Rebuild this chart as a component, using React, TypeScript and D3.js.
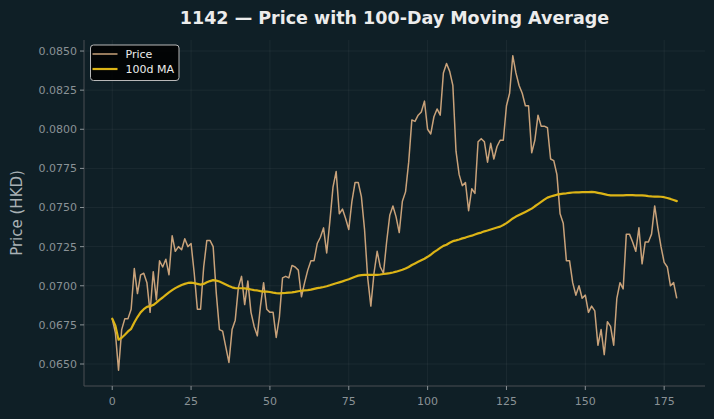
import React from 'react';
import * as d3 from 'd3';

// closing prices, one per trading day (index 0..179)
const prices = [
  0.0679, 0.0670, 0.0646, 0.0672, 0.0679, 0.0679, 0.0685, 0.0711, 0.0695, 0.0707,
  0.0708, 0.0702, 0.0683, 0.0709, 0.0691, 0.0716, 0.0712, 0.0717, 0.0707, 0.0732,
  0.0722, 0.0725, 0.0723, 0.0730, 0.0725, 0.0727, 0.0708, 0.0685, 0.0685, 0.0712,
  0.0729, 0.0729, 0.0725, 0.0695, 0.0672, 0.0671, 0.0661, 0.0651, 0.0672, 0.0678,
  0.0699, 0.0706, 0.0688, 0.0703, 0.0683, 0.0674, 0.0668, 0.0687, 0.0702, 0.0685,
  0.0683, 0.0683, 0.0667, 0.0680, 0.0705, 0.0706, 0.0705, 0.0713, 0.0712, 0.0710,
  0.0693, 0.0702, 0.0710, 0.0716, 0.0716, 0.0727, 0.0731, 0.0737, 0.0721, 0.0741,
  0.0763, 0.0773, 0.0746, 0.0749, 0.0743, 0.0736, 0.0754, 0.0766, 0.0766, 0.0757,
  0.0736, 0.0705, 0.0687, 0.0708, 0.0722, 0.0712, 0.0708, 0.0728, 0.0745, 0.0751,
  0.0744, 0.0734, 0.0754, 0.0760, 0.0779, 0.0806, 0.0805, 0.0809, 0.0811, 0.0818,
  0.0800, 0.0797, 0.0808, 0.0813, 0.0809, 0.0836, 0.0842, 0.0837, 0.0828, 0.0786,
  0.0771, 0.0764, 0.0766, 0.0748, 0.0762, 0.0759, 0.0792, 0.0794, 0.0792, 0.0779,
  0.0791, 0.0781, 0.0789, 0.0793, 0.0793, 0.0815, 0.0823, 0.0847, 0.0836, 0.0828,
  0.0823, 0.0815, 0.0815, 0.0785, 0.0793, 0.0809, 0.0802, 0.0802, 0.0801, 0.0781,
  0.0780, 0.0771, 0.0746, 0.0740, 0.0716, 0.0716, 0.0702, 0.0694, 0.0700, 0.0692,
  0.0694, 0.0683, 0.0687, 0.0684, 0.0662, 0.0672, 0.0656, 0.0677, 0.0674, 0.0662,
  0.0692, 0.0702, 0.0698, 0.0733, 0.0733, 0.0728, 0.0722, 0.0737, 0.0714, 0.0728,
  0.0728, 0.0733, 0.0751, 0.0737, 0.0725, 0.0715, 0.0712, 0.0700, 0.0702, 0.0692,
];

// 100-day moving average
const movingAvg = [
  0.06790, 0.06745, 0.06655, 0.06668, 0.06687, 0.06708, 0.06725, 0.06765, 0.06800, 0.06830,
  0.06850, 0.06865, 0.06870, 0.06877, 0.06892, 0.06910, 0.06925, 0.06942, 0.06958, 0.06972,
  0.06985, 0.06995, 0.07005, 0.07012, 0.07018, 0.07020, 0.07017, 0.07012, 0.07007, 0.07012,
  0.07022, 0.07030, 0.07036, 0.07033, 0.07027, 0.07018, 0.07008, 0.06998, 0.06990, 0.06985,
  0.06984, 0.06984, 0.06983, 0.06980, 0.06976, 0.06972, 0.06970, 0.06966, 0.06963, 0.06962,
  0.06960, 0.06956, 0.06953, 0.06952, 0.06953, 0.06954, 0.06956, 0.06958, 0.06961, 0.06965,
  0.06968, 0.06970, 0.06972, 0.06975, 0.06980, 0.06985, 0.06988, 0.06992, 0.06997, 0.07003,
  0.07010, 0.07016, 0.07022, 0.07028, 0.07035, 0.07042, 0.07050, 0.07058, 0.07065, 0.07068,
  0.07069, 0.07069, 0.07069, 0.07069, 0.07070, 0.07072, 0.07075, 0.07078, 0.07081, 0.07085,
  0.07090, 0.07096, 0.07102, 0.07110, 0.07120, 0.07133, 0.07143, 0.07153, 0.07163, 0.07173,
  0.07185, 0.07198, 0.07215, 0.07228, 0.07242, 0.07255, 0.07262, 0.07275, 0.07285, 0.07290,
  0.07296, 0.07303, 0.07308, 0.07315, 0.07320, 0.07328, 0.07335, 0.07340, 0.07348, 0.07353,
  0.07360, 0.07366, 0.07372, 0.07378, 0.07388, 0.07400, 0.07415, 0.07430, 0.07442, 0.07452,
  0.07462, 0.07472, 0.07482, 0.07493, 0.07508, 0.07522, 0.07536, 0.07550, 0.07563, 0.07570,
  0.07576, 0.07582, 0.07586, 0.07589, 0.07591, 0.07594, 0.07596, 0.07597, 0.07597, 0.07598,
  0.07598, 0.07599, 0.07600, 0.07598, 0.07594, 0.07590, 0.07586, 0.07581, 0.07578, 0.07577,
  0.07577, 0.07577, 0.07578, 0.07579, 0.07579, 0.07579, 0.07578, 0.07578, 0.07578, 0.07576,
  0.07573, 0.07571, 0.07570, 0.07570, 0.07569, 0.07566, 0.07561, 0.07555, 0.07548, 0.07541,
];

const xTicks = [0, 25, 50, 75, 100, 125, 150, 175];
const yTicks = [0.065, 0.0675, 0.07, 0.0725, 0.075, 0.0775, 0.08, 0.0825, 0.085];

const W = 714;
const H = 419;
const margin = { top: 40, right: 9, bottom: 33, left: 84 };
const BG = '#0f1f26';
const FONT = 'DejaVu Sans, sans-serif';

const App: React.FC = () => {
  const innerW = W - margin.left - margin.right;
  const innerH = H - margin.top - margin.bottom;

  const n = prices.length - 1;
  const pad = n * 0.05;
  const x = d3.scaleLinear().domain([-pad, n + pad]).range([0, innerW]);

  const lo = d3.min(prices) as number;
  const hi = d3.max(prices) as number;
  const yPad = (hi - lo) * 0.05;
  const y = d3.scaleLinear().domain([lo - yPad, hi + yPad]).range([innerH, 0]);

  const line = d3.line<number>()
    .x((_, i) => x(i))
    .y(d => y(d));

  return (
    <svg width={W} height={H} style={{ display: 'block', position: 'absolute', left: 0, top: 0, background: BG }}>
      <rect width={W} height={H} fill={BG} />
      <text x={margin.left + innerW / 2} y={24} textAnchor="middle" fill="#ececec"
        fontFamily={FONT} fontWeight="bold" fontSize={17.5}>
        1142 — Price with 100-Day Moving Average
      </text>
      <g transform={`translate(${margin.left},${margin.top})`}>
        {/* grid */}
        {yTicks.map(t => (
          <line key={`gy${t}`} x1={0} x2={innerW} y1={y(t)} y2={y(t)} stroke="#ffffff" strokeOpacity={0.05} />
        ))}
        {xTicks.map(t => (
          <line key={`gx${t}`} x1={x(t)} x2={x(t)} y1={0} y2={innerH} stroke="#ffffff" strokeOpacity={0.05} />
        ))}

        <path d={line(prices) || ''} fill="none" stroke="#c9a27a" strokeWidth={1.5} strokeLinejoin="round" />
        <path d={line(movingAvg) || ''} fill="none" stroke="#dcb416" strokeWidth={2.2} strokeLinejoin="round" strokeLinecap="round" />

        {/* spines */}
        <line x1={0} x2={0} y1={0} y2={innerH} stroke="#4a4f52" />
        <line x1={0} x2={innerW} y1={innerH} y2={innerH} stroke="#4a4f52" />

        {/* x axis */}
        {xTicks.map(t => (
          <g key={`xt${t}`} transform={`translate(${x(t)},${innerH})`}>
            <line y2={4} stroke="#8a9296" />
            <text y={19} textAnchor="middle" fill="#8a9296" fontFamily={FONT} fontSize={11}>{t}</text>
          </g>
        ))}
        {/* y axis */}
        {yTicks.map(t => (
          <g key={`yt${t}`} transform={`translate(0,${y(t)})`}>
            <line x2={-4} stroke="#8a9296" />
            <text x={-7} dy="0.35em" textAnchor="end" fill="#8a9296" fontFamily={FONT} fontSize={11}>
              {d3.format('.4f')(t)}
            </text>
          </g>
        ))}

        {/* legend */}
        <g transform="translate(6.5,5)">
          <rect width={88.5} height={35.5} rx={3} fill="#000000" fillOpacity={0.85} stroke="#b8b8b8" strokeWidth={1} />
          <line x1={2} x2={27} y1={9} y2={9} stroke="#c9a27a" strokeWidth={1.5} />
          <text x={35} y={9} dy="0.35em" fill="#ececec" fontFamily={FONT} fontSize={11}>Price</text>
          <line x1={2} x2={27} y1={24} y2={24} stroke="#dcb416" strokeWidth={2.2} />
          <text x={35} y={24} dy="0.35em" fill="#ececec" fontFamily={FONT} fontSize={11}>100d MA</text>
        </g>
      </g>
      <text transform={`translate(22,${margin.top + innerH / 2}) rotate(-90)`} textAnchor="middle"
        fill="#a9b1b5" fontFamily={FONT} fontSize={15}>
        Price (HKD)
      </text>
    </svg>
  );
};

export default App;
